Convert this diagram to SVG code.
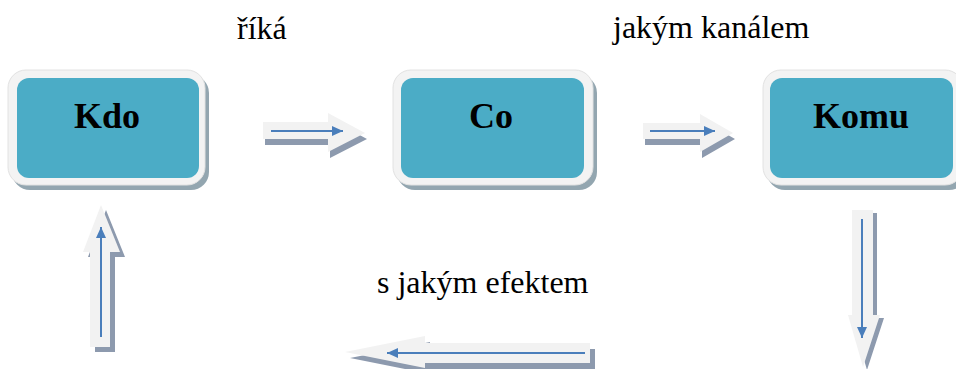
<svg xmlns="http://www.w3.org/2000/svg" width="956" height="369" viewBox="0 0 956 369">
<defs>
<style>
.shadow{fill:#93a6b0}
.frame{fill:#f3f3f3;stroke:#e2e2e2;stroke-width:1}
.inner{fill:#4bacc6}
.title{font-weight:bold;font-size:36px;fill:#000;text-anchor:middle}
.label{font-size:32px;fill:#000}
.ash{fill:#8d9aae}
.abody{fill:#f2f2f2}
.blue{stroke:#4a7ebb;stroke-width:2;fill:none;marker-end:url(#bh)}
</style>
<marker id="bh" markerUnits="userSpaceOnUse" markerWidth="12" markerHeight="10" refX="11" refY="5" orient="auto">
<path d="M0,0 L11,5 L0,10 z" fill="#4a7ebb"/>
</marker>
</defs>
<rect width="956" height="369" fill="#ffffff"/>
<g id="kdo">
<rect class="shadow" x="12" y="75" width="197" height="115" rx="18"/>
<rect class="frame" x="8" y="70" width="197" height="115" rx="18"/>
<rect class="inner" x="17" y="78" width="182" height="100" rx="12"/>
<text class="title" font-family="'Liberation Serif', 'DejaVu Serif', serif" x="107" y="128">Kdo</text>
</g>
<g id="co">
<rect class="shadow" x="397" y="75" width="200" height="115" rx="18"/>
<rect class="frame" x="393" y="70" width="200" height="115" rx="18"/>
<rect class="inner" x="401" y="78" width="183" height="100" rx="12"/>
<text class="title" font-family="'Liberation Serif', 'DejaVu Serif', serif" x="491" y="128">Co</text>
</g>
<g id="komu">
<rect class="shadow" x="767" y="75" width="200" height="115" rx="18"/>
<rect class="frame" x="763" y="70" width="200" height="115" rx="18"/>
<rect class="inner" x="770" y="78" width="183" height="100" rx="12"/>
<text class="title" font-family="'Liberation Serif', 'DejaVu Serif', serif" x="861" y="128">Komu</text>
</g>
<g id="labels">
<text class="label" font-family="'Liberation Serif', 'DejaVu Serif', serif" x="237" y="39">říká</text>
<text class="label" font-family="'Liberation Serif', 'DejaVu Serif', serif" x="613" y="38">jakým kanálem</text>
<text class="label" font-family="'Liberation Serif', 'DejaVu Serif', serif" x="377" y="293">s jakým efektem</text>
</g>
<g id="connectors">
<g id="a1">
<polygon class="ash" transform="translate(2,6)" points="263,122 328,122 328,113 365,133 328,152 328,139 263,139"/>
<polygon class="abody" points="263,122 328,122 328,113 365,133 328,152 328,139 263,139"/>
<line class="blue" x1="271" y1="131" x2="343" y2="131"/>
</g>
<g id="a2">
<polygon class="ash" transform="translate(2,6)" points="643,123 700,123 700,114 733,133 700,152 700,139 643,139"/>
<polygon class="abody" points="643,123 700,123 700,114 733,133 700,152 700,139 643,139"/>
<line class="blue" x1="650" y1="131" x2="715" y2="131"/>
</g>
<g id="a3">
<polygon class="ash" transform="translate(4,3)" points="852,210 873,210 873,315 880,315 863,367 848,315 852,315"/>
<polygon class="abody" points="852,210 873,210 873,315 880,315 863,367 848,315 852,315"/>
<line class="blue" x1="862" y1="219" x2="862" y2="338"/>
</g>
<g id="a4">
<polygon class="ash" transform="translate(5,6)" points="590,343 425,343 425,336 345,352 425,368 425,363 590,363"/>
<polygon class="abody" points="590,343 425,343 425,336 345,352 425,368 425,363 590,363"/>
<line class="blue" x1="585" y1="353" x2="387" y2="353"/>
</g>
<g id="a5">
<polygon class="ash" transform="translate(5,5)" points="90,347 90,252 83,252 101,205 120,252 110,252 110,347"/>
<polygon class="abody" points="90,347 90,252 83,252 101,205 120,252 110,252 110,347"/>
<line class="blue" x1="101" y1="337" x2="101" y2="227"/>
</g>
</g>
</svg>
